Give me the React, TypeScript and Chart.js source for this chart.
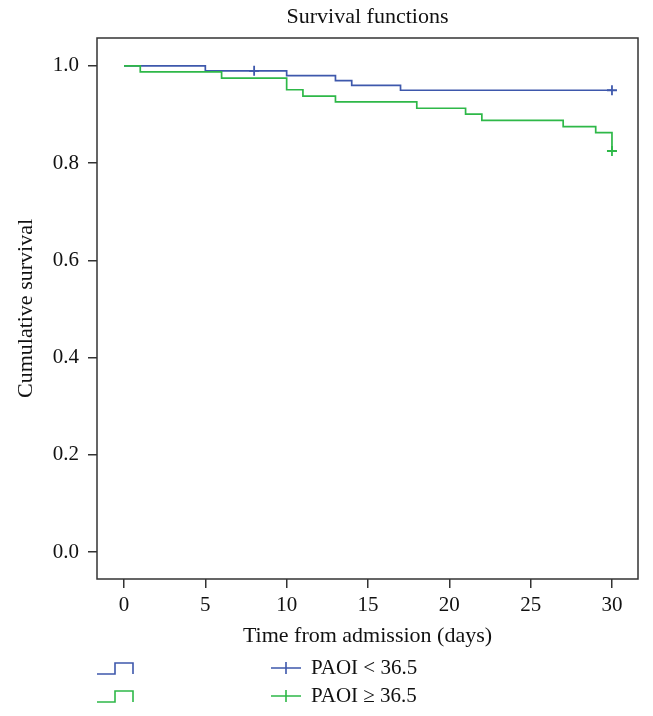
import React, { useEffect, useRef } from "react";
import { Chart, registerables } from "chart.js";

Chart.register(...registerables);

const TITLE = "Survival functions";
const X_TITLE = "Time from admission (days)";
const Y_TITLE = "Cumulative survival";
const X_TICKS = [0, 5, 10, 15, 20, 25, 30];
const Y_TICKS = [0, 0.2, 0.4, 0.6, 0.8, 1.0];

const LOW_TIMES = [0, 5, 10, 13, 14, 17, 30];
const LOW_SURV = [1.0, 0.99, 0.98, 0.97, 0.96, 0.95, 0.95];
const LOW_CENSOR_TIMES = [8, 30];
const LOW_CENSOR_SURV = [0.99, 0.95];

const HIGH_TIMES = [0, 1, 6, 10, 11, 13, 18, 21, 22, 27, 29, 30];
const HIGH_SURV = [1.0, 0.988, 0.975, 0.951, 0.938, 0.926, 0.913, 0.901, 0.888, 0.875, 0.863, 0.825];
const HIGH_CENSOR_TIMES = [30];
const HIGH_CENSOR_SURV = [0.825];

const LEGEND_LABELS = ["PAOI < 36.5", "PAOI \u2265 36.5"];

const BLUE = "#3E58AC";
const GREEN = "#2EB848";
const FRAME = "#333333";
const TEXT = "#111111";
const FONT = "'Liberation Serif', 'Times New Roman', serif";

const zip = (xs: number[], ys: number[]) => xs.map((x, i) => ({ x, y: ys[i] }));

const decorPlugin = {
  id: "decor",
  afterDraw(chart: any) {
    const { ctx, chartArea } = chart;
    const { left, right, top, bottom } = chartArea;
    ctx.save();
    // frame
    ctx.strokeStyle = FRAME;
    ctx.lineWidth = 1.5;
    ctx.strokeRect(left, top, right - left, bottom - top);

    ctx.fillStyle = TEXT;
    ctx.textAlign = "center";
    ctx.textBaseline = "alphabetic";
    ctx.font = `22px ${FONT}`;
    const cx = (left + right) / 2;
    ctx.fillText(TITLE, cx, 23);
    ctx.fillText(X_TITLE, cx, 642);

    ctx.save();
    ctx.translate(32, (top + bottom) / 2);
    ctx.rotate(-Math.PI / 2);
    ctx.fillText(Y_TITLE, 0, 0);
    ctx.restore();

    // legend
    const rows = [
      { c: 668, color: BLUE, label: LEGEND_LABELS[0] },
      { c: 696, color: GREEN, label: LEGEND_LABELS[1] },
    ];
    ctx.font = `21px ${FONT}`;
    ctx.textAlign = "left";
    ctx.textBaseline = "middle";
    rows.forEach((r) => {
      ctx.strokeStyle = r.color;
      ctx.lineWidth = 1.6;
      ctx.beginPath();
      ctx.moveTo(97, r.c + 6);
      ctx.lineTo(115, r.c + 6);
      ctx.lineTo(115, r.c - 5);
      ctx.lineTo(133, r.c - 5);
      ctx.lineTo(133, r.c + 6);
      ctx.stroke();
      ctx.beginPath();
      ctx.moveTo(271, r.c);
      ctx.lineTo(301, r.c);
      ctx.moveTo(286, r.c - 6);
      ctx.lineTo(286, r.c + 6);
      ctx.stroke();
      ctx.fillStyle = TEXT;
      ctx.fillText(r.label, 311, r.c);
    });
    ctx.restore();
  },
};

export default function App() {
  const ref = useRef<HTMLCanvasElement | null>(null);

  useEffect(() => {
    if (!ref.current) return;
    const chart = new Chart(ref.current, {
      type: "line",
      data: {
        datasets: [
          {
            type: "scatter",
            data: zip(HIGH_CENSOR_TIMES, HIGH_CENSOR_SURV),
            pointStyle: "cross",
            pointRadius: 5,
            borderColor: GREEN,
            backgroundColor: GREEN,
            borderWidth: 1.8,
            order: 0,
          } as any,
          {
            type: "scatter",
            data: zip(LOW_CENSOR_TIMES, LOW_CENSOR_SURV),
            pointStyle: "cross",
            pointRadius: 5,
            borderColor: BLUE,
            backgroundColor: BLUE,
            borderWidth: 1.8,
            order: 0,
          } as any,
          {
            data: zip(HIGH_TIMES, HIGH_SURV),
            borderColor: GREEN,
            borderWidth: 1.7,
            pointRadius: 0,
            stepped: true,
            fill: false,
            order: 1,
          },
          {
            data: zip(LOW_TIMES, LOW_SURV),
            borderColor: BLUE,
            borderWidth: 1.7,
            pointRadius: 0,
            stepped: true,
            fill: false,
            order: 2,
          },
        ],
      },
      options: {
        responsive: false,
        animation: false,
        parsing: false,
        layout: { padding: { left: 0, right: 15, top: 38, bottom: 0 } },
        plugins: {
          legend: { display: false },
          title: { display: false },
          tooltip: { enabled: false },
        },
        scales: {
          x: {
            type: "linear",
            min: -1.66,
            max: 31.6,
            afterBuildTicks: (axis: any) => {
              axis.ticks = X_TICKS.map((v) => ({ value: v }));
            },
            afterFit: (axis: any) => {
              axis.height = 137;
            },
            ticks: {
              callback: (v: any) => String(v),
              font: { family: FONT, size: 21 },
              color: TEXT,
              padding: 5,
              maxRotation: 0,
              autoSkip: false,
            },
            grid: {
              drawOnChartArea: false,
              drawTicks: true,
              tickLength: 9,
              color: FRAME,
              lineWidth: 1.5,
            },
            border: { display: false },
          },
          y: {
            type: "linear",
            min: -0.0555,
            max: 1.0575,
            afterBuildTicks: (axis: any) => {
              axis.ticks = Y_TICKS.map((v) => ({ value: v }));
            },
            afterFit: (axis: any) => {
              axis.width = 97;
            },
            ticks: {
              callback: (v: any) => Number(v).toFixed(1),
              font: { family: FONT, size: 21 },
              color: TEXT,
              padding: 9,
              autoSkip: false,
            },
            grid: {
              drawOnChartArea: false,
              drawTicks: true,
              tickLength: 9,
              color: FRAME,
              lineWidth: 1.5,
            },
            border: { display: false },
          },
        },
      },
      plugins: [decorPlugin],
    } as any);
    return () => chart.destroy();
  }, []);

  return (
    <div style={{ position: "absolute", left: 0, top: 0, width: 653, height: 716, background: "#fff" }}>
      <canvas ref={ref} width={653} height={716} />
    </div>
  );
}
